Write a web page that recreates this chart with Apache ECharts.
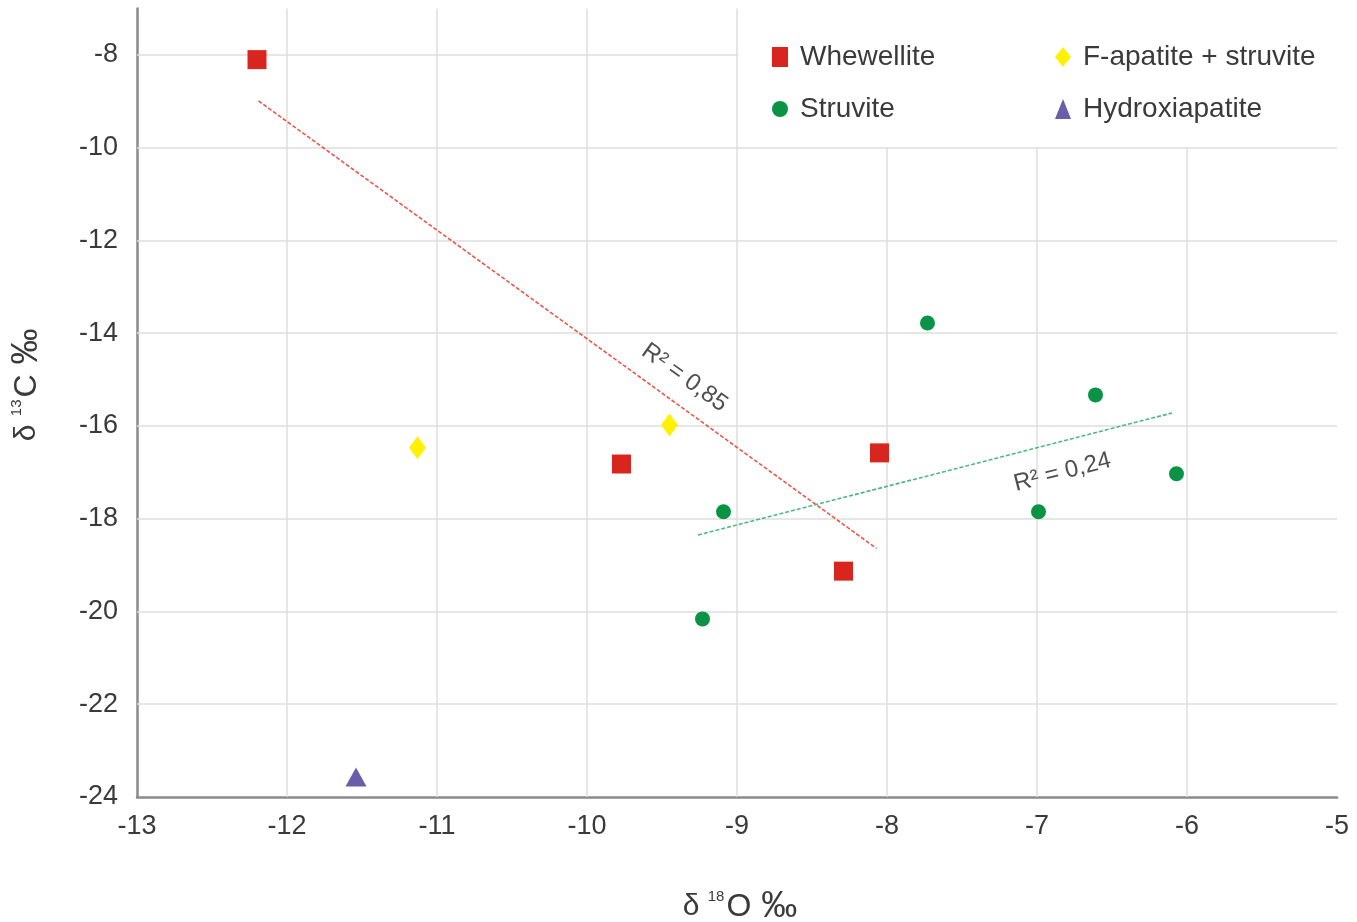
<!DOCTYPE html>
<html><head><meta charset="utf-8">
<script src="https://cdn.jsdelivr.net/npm/echarts@6/dist/echarts.min.js"></script>
<style>html,body{margin:0;padding:0;background:#fff;overflow:hidden}#c{width:1357px;height:922px}</style>
</head><body><div id="c"></div>
<script>
// Data (δ18O, δ13C)
const whewellite = [[-12.2,-8.1],[-9.77,-16.82],[-8.05,-16.58],[-8.29,-19.13]];
const struvite = [[-7.73,-13.78],[-6.61,-15.33],[-6.07,-17.03],[-6.99,-17.85],[-9.09,-17.85],[-9.23,-20.16]];
const fapatiteStruvite = [[-11.13,-16.47],[-9.45,-15.98]];
const hydroxiapatite = [[-11.54,-23.57]];
// Trend lines (endpoints) and R² annotations
const trendWhewellite = [[-12.19,-8.99],[-8.07,-18.64]];
const trendStruvite = [[-9.26,-18.35],[-6.10,-15.72]];
const r2Whewellite = {text:'R² = 0,85', at:[-9.35,-14.96]};
const r2Struvite = {text:'R² = 0,24', at:[-6.83,-17.0]};
// Gridlines
const xGrid = [-12,-11,-10,-9,-8,-7,-6];
const yGrid = [-22,-20,-18,-16,-14,-12,-10,-8];

const FONT = 'Liberation Sans, Arial, sans-serif';
const TXT = '#3a3a3a';
const RED = '#d8261e', GREEN = '#0a9345', YELLOW = '#fff200', PURPLE = '#6a5ea8';

const chart = echarts.init(document.getElementById('c'), null, {renderer:'canvas'});

const legendCommon = {
  orient:'vertical', top:43, padding:0, itemWidth:16, itemHeight:20, itemGap:24,
  symbolKeepAspect:false, selectedMode:false,
  textStyle:{fontFamily:FONT, fontSize:28, color:TXT, lineHeight:28, padding:[0,0,0,7]}
};

const nameRich = {
  d:{fontFamily:FONT, fontSize:30, color:TXT, lineHeight:36},
  s:{fontFamily:FONT, fontSize:15, color:TXT, verticalAlign:'top', lineHeight:36, padding:[0,2,14,0]},
  o:{fontFamily:FONT, fontSize:32, color:TXT, lineHeight:36},
  p:{fontFamily:FONT, fontSize:36, color:TXT, lineHeight:36}
};

chart.setOption({
  backgroundColor:'#fff',
  animation:false,
  grid:{left:137, width:1200, top:8.6, height:788.4, containLabel:false, outerBoundsMode:'none'},
  xAxis:{
    type:'value', min:-13, max:-5, interval:1,
    axisLine:{show:true, onZero:false, lineStyle:{color:'#8a8a8a', width:2.5}},
    axisTick:{show:false},
    splitLine:{show:false},
    axisLabel:{fontFamily:FONT, fontSize:27, color:TXT, margin:16},
    name:'{d|δ }{s|18}{o|O}{p| ‰}',
    nameLocation:'middle', nameGap:92,
    nameTextStyle:{fontFamily:FONT, color:TXT, padding:[0,0,0,6], rich:nameRich}
  },
  yAxis:{
    type:'value', min:-24, max:-7, interval:2,
    axisLine:{show:true, onZero:false, lineStyle:{color:'#8a8a8a', width:2.5}},
    axisTick:{show:false},
    splitLine:{show:false},
    axisLabel:{fontFamily:FONT, fontSize:27, color:TXT, margin:19, showMaxLabel:false},
    name:'{d|δ }{s|13}{o|C}{p| ‰}',
    nameLocation:'middle', nameGap:92, nameRotate:90,
    nameTextStyle:{fontFamily:FONT, color:TXT, padding:[0,0,0,36], rich:nameRich}
  },
  legend:[
    Object.assign({}, legendCommon, {left:772, data:[{name:'Whewellite', icon:'rect'},{name:'Struvite', icon:'circle'}]}),
    Object.assign({}, legendCommon, {left:1055, data:[{name:'F-apatite + struvite', icon:'diamond'},{name:'Hydroxiapatite', icon:'triangle'}]})
  ],
  graphic:[
    {type:'rect', z:2, silent:true, shape:{x:738.5, y:0, width:600, height:147}, style:{fill:'#fff'}}
  ],
  series:[
    {
      name:'grid', type:'line', data:[], z:1, silent:true,
      markLine:{
        silent:true, z:1, symbol:['none','none'], label:{show:false},
        lineStyle:{color:'#dedede', width:1.5, type:'solid'},
        emphasis:{disabled:true},
        data: xGrid.map(v=>({xAxis:v})).concat(yGrid.map(v=>({yAxis:v})))
      }
    },
    {
      name:'trendW', type:'line', data:trendWhewellite, symbol:'none', silent:true, z:3,
      lineStyle:{color:'#e8574d', width:1.6, type:[4,2]}
    },
    {
      name:'trendS', type:'line', data:trendStruvite, symbol:'none', silent:true, z:3,
      lineStyle:{color:'#4fb87f', width:1.6, type:[4,2]}
    },
    {
      name:'Whewellite', type:'scatter', data:whewellite, symbol:'rect', symbolSize:19, z:4,
      itemStyle:{color:RED, opacity:1}
    },
    {
      name:'Struvite', type:'scatter', data:struvite, symbol:'circle', symbolSize:15, z:4,
      itemStyle:{color:GREEN, opacity:1}
    },
    {
      name:'F-apatite + struvite', type:'scatter', data:fapatiteStruvite, symbol:'diamond', symbolSize:[17,23], z:4,
      itemStyle:{color:YELLOW, opacity:1}
    },
    {
      name:'Hydroxiapatite', type:'scatter', data:hydroxiapatite, symbol:'triangle', symbolSize:[21,19], z:4,
      itemStyle:{color:PURPLE, opacity:1}
    },
    {
      name:'r2', type:'scatter', silent:true, z:5, symbolSize:1,
      itemStyle:{color:'rgba(0,0,0,0)'},
      data:[
        {value:r2Whewellite.at, label:{show:true, formatter:r2Whewellite.text, rotate:-35.8}},
        {value:r2Struvite.at, label:{show:true, formatter:r2Struvite.text, rotate:14.3}}
      ],
      label:{show:true, position:'inside', fontFamily:FONT, fontSize:24, color:'#222'}
    }
  ]
});
</script></body></html>
